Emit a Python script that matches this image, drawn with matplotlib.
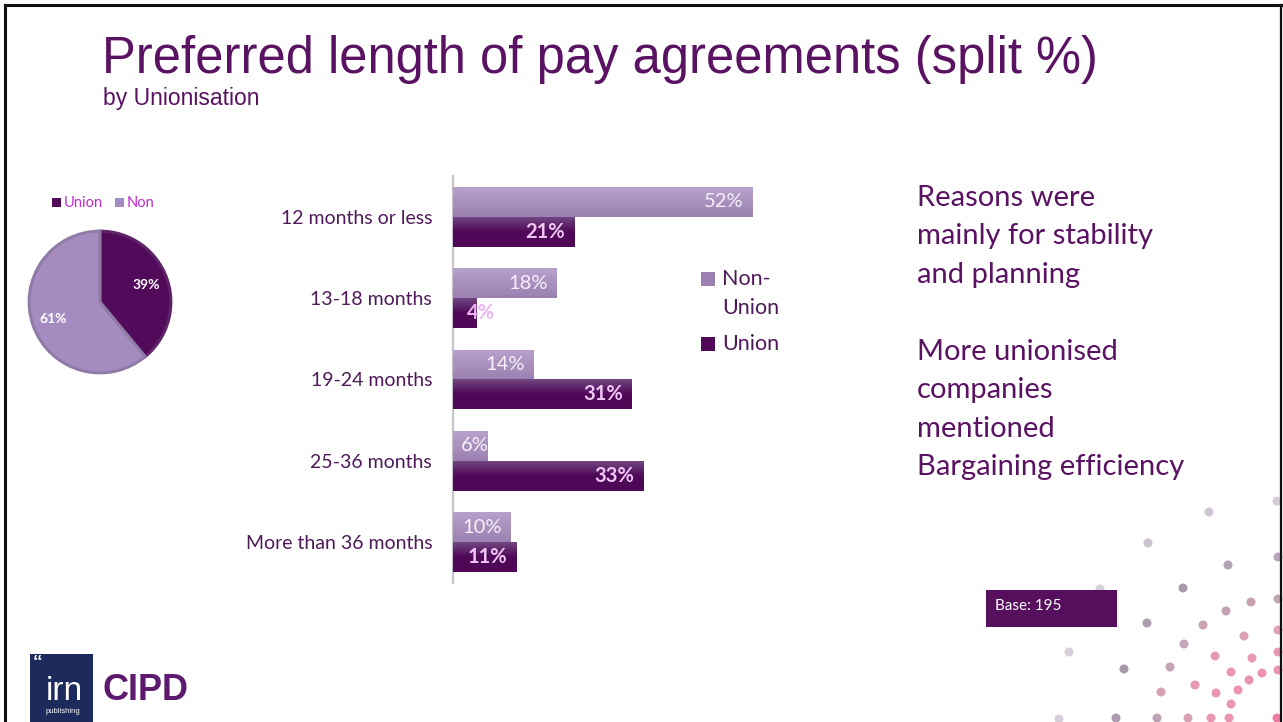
import numpy as np
import matplotlib
matplotlib.use("Agg")
import matplotlib.pyplot as plt
from matplotlib.patches import Rectangle
from matplotlib.colors import LinearSegmentedColormap
from matplotlib import font_manager

# ---- data -------------------------------------------------------------
categories = ["12 months or less", "13-18 months", "19-24 months",
              "25-36 months", "More than 36 months"]
non_union = [52, 18, 14, 6, 10]
union = [21, 4, 31, 33, 11]
series_names = ["Non-\nUnion", "Union"]

pie_labels = ["Union", "Non"]
pie_values = [39, 61]

title = "Preferred length of pay agreements (split %)"
subtitle = "by Unionisation"
notes = ["Reasons were", "mainly for stability", "and planning", "",
         "More unionised", "companies", "mentioned", "Bargaining efficiency"]
base_note = "Base: 195"

# ---- style ------------------------------------------------------------
W, H = 1283, 722
PURPLE = "#5a1262"
TEXT = "#4e1a58"
NON_TOP, NON_BOT = "#b8a1cc", "#9b81b1"
UNI_TOP, UNI_BOT = "#714680", "#4f0858"

def has_font(name):
    try:
        font_manager.findfont(name, fallback_to_default=False)
        return True
    except Exception:
        return False

BODY = "Lato" if has_font("Lato") else "DejaVu Sans"
HEAD = "Liberation Sans"

fig = plt.figure(figsize=(W / 100, H / 100), dpi=100)
fig.patch.set_facecolor("white")

def fx(px):
    return px / W

def fy(py):
    return 1 - py / H

# slide frame
frame = fig.add_axes([0, 0, 1, 1], zorder=-5)
frame.set_xlim(0, W)
frame.set_ylim(H, 0)
frame.axis("off")
frame.plot([5, 5], [5, H], color="#111111", lw=2.2)
frame.plot([5, 1281], [5, 5], color="#111111", lw=2.2)
frame.plot([1281, 1281], [5, H], color="#111111", lw=1.6)

# decorative dots, bottom-right corner
dots = [(1277, 501, "#d4ccd6"), (1209, 512, "#cfc5d0"), (1148, 543, "#cdc3cf"),
        (1228, 565, "#b3a3b6"), (1278, 557, "#b5a6b8"), (1183, 588, "#aa9aae"),
        (1100, 589, "#d8d0da"), (1251, 602, "#c9a0b0"), (1226, 611, "#c0a2b4"),
        (1278, 599, "#c4a6b6"), (1147, 623, "#ad9db1"), (1203, 625, "#cda3b3"),
        (1244, 636, "#dca0b4"), (1278, 630, "#e0a2b6"), (1184, 644, "#c6a8b8"),
        (1069, 652, "#d6ced8"), (1215, 656, "#e59ab2"), (1252, 658, "#e898b2"),
        (1278, 652, "#e99ab2"), (1124, 669, "#a898ad"), (1170, 667, "#c4a4b6"),
        (1231, 672, "#ec95b0"), (1262, 673, "#ee93ae"), (1278, 670, "#ec95b0"),
        (1249, 680, "#ec93ae"), (1195, 685, "#e59ab2"), (1161, 692, "#d8a0b4"),
        (1216, 693, "#ec95b0"), (1238, 690, "#ec93ae"), (1231, 704, "#ec95b0"),
        (1059, 719, "#d6ced8"), (1116, 718, "#aa9aae"), (1157, 718, "#bba2b4"),
        (1188, 718, "#d9a0b4"), (1211, 718, "#e99ab2"), (1229, 718, "#ec95b0"),
        (1277, 718, "#f07aa0")]
for x, y, c in dots:
    frame.scatter(x, y, s=42, color=c, edgecolors="none", zorder=1)

# ---- titles -------------------------------------------------------------
fig.text(fx(102), fy(59), title, family=HEAD, fontsize=36.5, color=PURPLE,
         ha="left", va="center")
fig.text(fx(103), fy(98), subtitle, family=HEAD, fontsize=16.5, color=PURPLE,
         ha="left", va="center")

# ---- bar chart ----------------------------------------------------------
ax = fig.add_axes([fx(453), fy(583), fx(345.8), (583 - 176) / H])
n = len(categories)
y = np.arange(n)
bh = 30 / 81.5
non_bars = ax.barh(y - bh / 2, non_union, height=bh, color=NON_BOT, zorder=2)
uni_bars = ax.barh(y + bh / 2, union, height=bh, color=UNI_BOT, zorder=2)

def shade(bars, top, bot, stops):
    cmap = LinearSegmentedColormap.from_list("g", list(zip(stops, [top, bot, bot])))
    grad = np.linspace(0, 1, 64).reshape(-1, 1)
    for b in bars:
        x0, y0 = b.get_x(), b.get_y()
        im = ax.imshow(grad, cmap=cmap, aspect="auto", zorder=3,
                       extent=[x0, x0 + b.get_width(), y0 + b.get_height(), y0],
                       interpolation="bilinear")
        im.set_clip_path(b)

shade(non_bars, NON_TOP, NON_BOT, [0.0, 1.0, 1.0])
shade(uni_bars, UNI_TOP, UNI_BOT, [0.0, 0.5, 1.0])

ax.set_xlim(0, 60)
ax.set_ylim(n - 0.5, -0.5)
for s in ["top", "right", "bottom"]:
    ax.spines[s].set_visible(False)
ax.spines["left"].set_color("#c8c4cc")
ax.spines["left"].set_linewidth(1.6)
ax.set_xticks([])
ax.set_yticks(y)
ax.set_yticklabels(categories, family=BODY, fontsize=14, color=TEXT)
ax.tick_params(axis="y", length=0, pad=15)
ax.patch.set_alpha(0)

unit_px = 345.8 / 60
for i, v in enumerate(non_union):
    if v * unit_px > 45:
        ax.text(v - 9 / unit_px, i - bh / 2, f"{v}%", ha="right", va="center",
                family=BODY, fontsize=14.5, color="#f6f0fa", zorder=5)
    else:
        ax.text(8 / unit_px, i - bh / 2, f"{v}%", ha="left", va="center",
                family=BODY, fontsize=14.5, color="#f6f0fa", zorder=5)
for i, v in enumerate(union):
    if v * unit_px > 45:
        ax.text(v - 9 / unit_px, i + bh / 2, f"{v}%", ha="right", va="center",
                family=BODY, fontsize=14.5, weight="bold", color="#f0c6f4", zorder=5)
    else:
        ax.text(13.5 / unit_px, i + bh / 2, f"{v}%", ha="left", va="center",
                family=BODY, fontsize=14.5, weight="bold", color="#ecb4f2", zorder=5)

# legend of the bar chart
leg = fig.add_axes([0, 0, 1, 1], zorder=4)
leg.set_xlim(0, W)
leg.set_ylim(H, 0)
leg.axis("off")
for (y0, top, bot) in [(272, NON_TOP, NON_BOT), (337, UNI_TOP, UNI_BOT)]:
    sq = Rectangle((701, y0), 14, 14, facecolor=bot, edgecolor="none")
    leg.add_patch(sq)
    g = leg.imshow(np.linspace(0, 1, 32).reshape(-1, 1),
                   cmap=LinearSegmentedColormap.from_list("s", [top, bot]),
                   extent=[701, 715, y0 + 14, y0], aspect="auto")
    g.set_clip_path(sq)
leg.text(722, 279, series_names[0].split("\n")[0], family=BODY, fontsize=15.5,
         color=TEXT, ha="left", va="center")
leg.text(722, 308, series_names[0].split("\n")[1], family=BODY, fontsize=15.5,
         color=TEXT, ha="left", va="center")
leg.text(722, 344, series_names[1], family=BODY, fontsize=15.5,
         color=TEXT, ha="left", va="center")
leg.set_xlim(0, W)
leg.set_ylim(H, 0)

# ---- side notes ---------------------------------------------------------
for k, line in enumerate(notes):
    if line:
        leg.text(917, 198 + k * 38.45, line, family=BODY, fontsize=21,
                 color=PURPLE, ha="left", va="center")

# base box
leg.add_patch(Rectangle((986, 590), 131, 37, facecolor="#560f5c",
                        edgecolor="none"))
leg.text(995, 606, base_note, family=BODY, fontsize=11, color="white",
         ha="left", va="center")

# ---- logos --------------------------------------------------------------
leg.add_patch(Rectangle((30, 654), 63, 70, facecolor="#1c2b5c", edgecolor="none",
                        clip_on=False))
leg.text(33, 654, "\u201c", family="Liberation Sans", fontsize=14, weight="bold",
         color="white", ha="left", va="top")
leg.text(64, 700, "irn", family="Liberation Sans", fontsize=24, color="white",
         ha="center", va="baseline")
leg.text(63, 708, "publishing", family="Liberation Sans", fontsize=5.5,
         color="white", ha="center", va="top")
leg.text(102, 690, "CIPD", family="Liberation Sans", fontsize=26, weight="bold",
         color="#5e1a6e", ha="left", va="center")

# ---- pie ----------------------------------------------------------------
pax = fig.add_axes([fx(27), fy(375), fx(146), 146 / H])
wedges, _, autotexts = pax.pie(
    pie_values, startangle=90, counterclock=False,
    colors=["#520a5a", "#a48cc0"], autopct="%d%%", pctdistance=0.7,
    wedgeprops=dict(linewidth=2.2, edgecolor="#8f7ba6"),
    textprops=dict(family=BODY, fontsize=10, weight="bold", color="white"))
wedges[0].set_edgecolor("#5e2468")
pax.set_xlim(-1.03, 1.03)
pax.set_ylim(-1.03, 1.03)
pax.set_aspect("equal")

# pie legend
for (x0, lab, col) in [(52, pie_labels[0], "#520a5a"), (115, pie_labels[1], "#a48cc0")]:
    leg.add_patch(Rectangle((x0, 198), 9, 9, facecolor=col, edgecolor="none"))
    leg.text(x0 + 12, 203, lab, family=BODY, fontsize=10.5, color="#c02ad0",
             ha="left", va="center")

fig.savefig("out.png", dpi=100, facecolor="white")
